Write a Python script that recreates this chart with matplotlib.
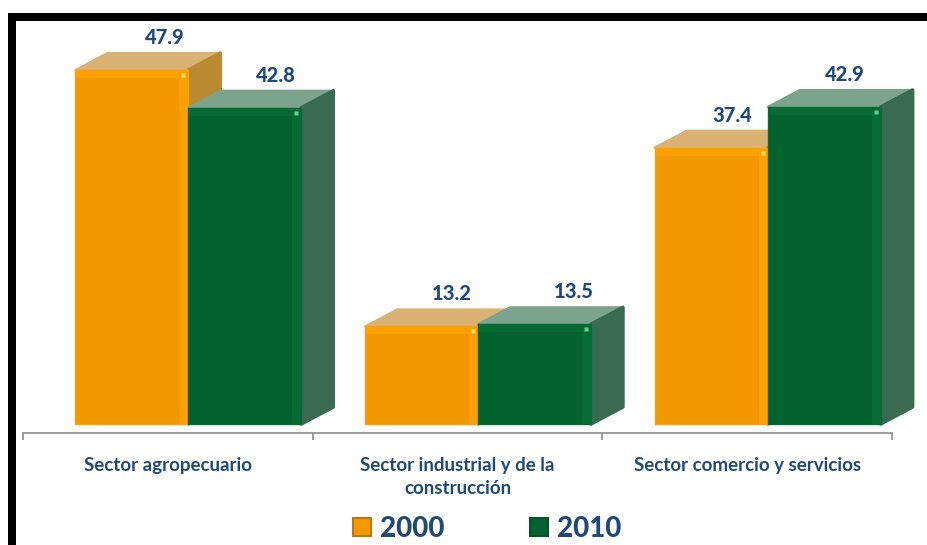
import matplotlib
matplotlib.use("Agg")
import matplotlib.pyplot as plt
from matplotlib.patches import Polygon, Patch, Rectangle
from matplotlib.ticker import FixedLocator, NullFormatter

categories = ["Sector agropecuario", "Sector industrial y de la\nconstrucción", "Sector comercio y servicios"]
years = ["2000", "2010"]
values_2000 = [47.9, 13.2, 37.4]
values_2010 = [42.8, 13.5, 42.9]

W, H = 927, 545
PX = 1 / 289.67
PY = 1 / 7.39
BLUE = "#1F497D"
STYLE = {
    "2000": dict(front="#F49800", rim="#FCA004", side="#B98A30", top="#D9B274", dot="#FFE050", edge="#B87A10"),
    "2010": dict(front="#03632F", rim="#086B36", side="#3A6B51", top="#7CA38B", dot="#5FD090", edge="#0A4F2A"),
}
label_dx = {"2000": [33, 30, 21], "2010": [31, 39, 21]}

plt.rcParams["font.family"] = ["Lato", "DejaVu Sans"]
fig = plt.figure(figsize=(W / 100, H / 100), dpi=100)
ax = fig.add_axes([23 / W, (H - 433) / H, 869 / W, 412 / H])
ax.set_xlim(-0.5, 2.5)
ax.set_ylim(-9 * PY, 403 * PY)
ax.patch.set_alpha(0)

bar_w = 113 * PX
dx, dy = 32 * PX, 17 * PY
offs = {"2000": -92.5 * PX, "2010": -92.5 * PX + bar_w}

for j, (year, vals) in enumerate(zip(years, [values_2000, values_2010])):
    st = STYLE[year]
    for i, v in enumerate(vals):
        x0 = i + offs[year]
        x1 = x0 + bar_w
        z = 2 + i * 2 + j
        # top and side faces
        ax.add_patch(Polygon([(x0, v), (x0 + dx, v + dy), (x1 + dx, v + dy), (x1, v)],
                             closed=True, fc=st["top"], ec=st["top"], lw=1.5, joinstyle="round",
                             zorder=z, clip_on=False))
        ax.add_patch(Polygon([(x1, v), (x1 + dx, v + dy), (x1 + dx, dy), (x1, 0)],
                             closed=True, fc=st["side"], ec=st["side"], lw=2.5, joinstyle="round",
                             zorder=z, clip_on=False))
        # front face and bevel
        ax.bar(x0, v, width=bar_w, align="edge", color=st["front"], edgecolor=st["rim"],
               lw=1, joinstyle="round", zorder=z + 0.1)
        ax.add_patch(Rectangle((x1 - 9 * PX, 0), 9 * PX, v, fc=st["rim"], ec="none", zorder=z + 0.2))
        ax.add_patch(Rectangle((x0, v - 8 * PY), bar_w, 8 * PY, fc=st["rim"], ec="none", zorder=z + 0.2))
        ax.plot([x1 - 5 * PX], [v - 5 * PY], "s", ms=3.5, color=st["dot"], mec="none", zorder=z + 0.3)
        ax.text(x0 + bar_w / 2 + label_dx[year][i] * PX, v + 34 * PY, f"{v:.1f}",
                ha="center", va="center_baseline", color=BLUE, fontsize=14.5, fontweight="black", zorder=20)

for s in ["top", "left", "right"]:
    ax.spines[s].set_visible(False)
ax.spines["bottom"].set_color("#8C8C8C")
ax.spines["bottom"].set_linewidth(1.2)
ax.set_yticks([])
ax.set_xticks(range(3))
ax.set_xticklabels(categories, color=BLUE, fontsize=13.5, fontweight="bold", linespacing=1.42)
ax.tick_params(axis="x", which="major", length=0, pad=17.5)
ax.xaxis.set_minor_locator(FixedLocator([-0.5, 0.5, 1.5, 2.5]))
ax.xaxis.set_minor_formatter(NullFormatter())
ax.tick_params(axis="x", which="minor", length=5, width=1.2, color="#8C8C8C")

handles = [Patch(facecolor=STYLE[y]["front"], edgecolor=STYLE[y]["edge"], lw=1.5) for y in years]
fig.legend(handles, years, loc="center", bbox_to_anchor=(487 / W, (H - 529) / H), ncol=2, frameon=False,
           prop={"size": 20, "weight": "black"}, labelcolor=BLUE, handlelength=0.66, handleheight=0.6,
           handletextpad=0.3, columnspacing=3.1, borderpad=0, borderaxespad=0)

# black frame
fig.patches.append(Rectangle((8 / W, 0), 8 / W, (H - 13) / H, transform=fig.transFigure, fc="black", ec="none"))
fig.patches.append(Rectangle((8 / W, (H - 21) / H), (W - 8) / W, 8 / H, transform=fig.transFigure, fc="black", ec="none"))

fig.savefig("out.png", dpi=100, facecolor="white")
